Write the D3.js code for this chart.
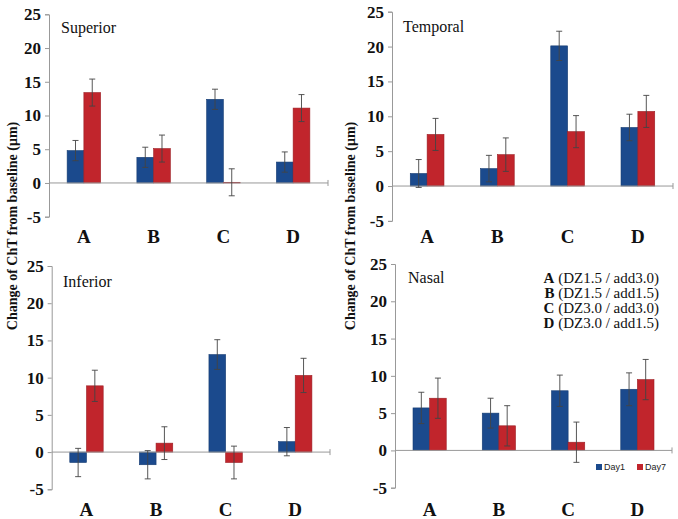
<!DOCTYPE html>
<html>
<head>
<meta charset="utf-8">
<script src="https://cdn.jsdelivr.net/npm/d3@7"></script>
<style>
  body { margin: 0; background: #fff; }
  svg { display: block; }
</style>
</head>
<body>
<script>
// categories and series
const groups = ["A", "B", "C", "D"];
const series = ["Day1", "Day7"];

// mean change (µm) per region, [Day1, Day7] for A..D
const superiorDay1 = [4.8, 3.8, 12.4, 3.1];
const superiorDay7 = [13.4, 5.1, 0.1, 11.1];
const superiorErr1 = [1.5, 1.5, 1.5, 1.5];
const superiorErr7 = [2.0, 2.0, 2.0, 2.0];

const temporalDay1 = [1.8, 2.5, 20.1, 8.4];
const temporalDay7 = [7.4, 4.5, 7.8, 10.7];
const temporalErr1 = [2.0, 1.9, 2.1, 1.9];
const temporalErr7 = [2.3, 2.4, 2.3, 2.3];

const inferiorDay1 = [-1.4, -1.7, 13.1, 1.4];
const inferiorDay7 = [8.9, 1.2, -1.4, 10.3];
const inferiorErr1 = [1.9, 1.9, 2.0, 1.9];
const inferiorErr7 = [2.1, 2.2, 2.2, 2.3];

const nasalDay1 = [5.7, 5.0, 8.0, 8.2];
const nasalDay7 = [7.0, 3.3, 1.1, 9.5];
const nasalErr1 = [2.1, 2.0, 2.1, 2.2];
const nasalErr7 = [2.7, 2.7, 2.7, 2.7];

const yTicks = [-5, 0, 5, 10, 15, 20, 25];
const keyLabels = [
  ["A", " (DZ1.5 / add3.0)"],
  ["B", " (DZ1.5 / add1.5)"],
  ["C", " (DZ3.0 / add3.0)"],
  ["D", " (DZ3.0 / add1.5)"]
];

const width = 678, height = 519;
const colors = { Day1: "#1b4a8d", Day7: "#c1252c" };
const serif = "'Liberation Serif', 'DejaVu Serif', serif";

const panels = [
  { title: "Superior", d1: superiorDay1, d7: superiorDay7, e1: superiorErr1, e7: superiorErr7,
    x0: 49, x1: 328, yTop: 14.3, yBot: 216.7, titleX: 61, titleY: 33, catY: 243 },
  { title: "Temporal", d1: temporalDay1, d7: temporalDay7, e1: temporalErr1, e7: temporalErr7,
    x0: 392, x1: 673, yTop: 11.7, yBot: 220.9, titleX: 403, titleY: 32, catY: 243 },
  { title: "Inferior", d1: inferiorDay1, d7: inferiorDay7, e1: inferiorErr1, e7: inferiorErr7,
    x0: 51.7, x1: 330, yTop: 266, yBot: 489.3, titleX: 63, titleY: 287, catY: 516 },
  { title: "Nasal", d1: nasalDay1, d7: nasalDay7, e1: nasalErr1, e7: nasalErr7,
    x0: 395, x1: 672, yTop: 264, yBot: 487.7, titleX: 408, titleY: 283, catY: 516, key: true }
];

const svg = d3.select("body").append("svg")
  .attr("width", width)
  .attr("height", height)
  .attr("viewBox", [0, 0, width, height]);

panels.forEach(p => {
  const g = svg.append("g");
  const x = d3.scaleBand().domain(groups).range([p.x0, p.x1])
    .paddingInner(0.52).paddingOuter(0.26);
  const xs = d3.scaleBand().domain(series).range([0, x.bandwidth()]);
  const y = d3.scaleLinear().domain([-5, 25]).range([p.yBot, p.yTop]);

  // y axis
  const yAxis = g.append("g")
    .attr("transform", `translate(${p.x0},0)`)
    .call(d3.axisLeft(y).tickValues(yTicks).tickFormat(d => String(d))
      .tickSize(4).tickPadding(4));
  yAxis.select(".domain").attr("stroke", "#999");
  yAxis.selectAll(".tick line").attr("stroke", "#999");
  yAxis.attr("font-family", null).attr("font-size", null);
  yAxis.selectAll("text")
    .style("font-family", serif).style("font-weight", "bold")
    .style("font-size", "17px").attr("fill", "#111");

  const rows = groups.map((c, i) => [
    { c, s: "Day1", v: p.d1[i], e: p.e1[i] },
    { c, s: "Day7", v: p.d7[i], e: p.e7[i] }
  ]).flat();

  // bars
  g.append("g").selectAll("rect").data(rows).join("rect")
    .attr("x", d => x(d.c) + xs(d.s))
    .attr("width", xs.bandwidth())
    .attr("y", d => y(Math.max(0, d.v)))
    .attr("height", d => Math.abs(y(d.v) - y(0)))
    .attr("fill", d => colors[d.s])
    .attr("stroke", d => d3.color(colors[d.s]).darker(0.6))
    .attr("stroke-width", 0.6);

  // zero line (x axis)
  g.append("line")
    .attr("x1", p.x0).attr("x2", p.x1)
    .attr("y1", y(0)).attr("y2", y(0))
    .attr("stroke", "#999");
  g.append("line")
    .attr("x1", p.x1).attr("x2", p.x1)
    .attr("y1", y(0) - 3).attr("y2", y(0) + 3)
    .attr("stroke", "#999");

  // error bars
  const eb = g.append("g").selectAll("g").data(rows).join("g")
    .attr("stroke", "#444").attr("stroke-width", 0.9);
  const cx = d => x(d.c) + xs(d.s) + xs.bandwidth() / 2;
  eb.append("line")
    .attr("x1", cx).attr("x2", cx)
    .attr("y1", d => y(d.v + d.e)).attr("y2", d => y(d.v - d.e));
  eb.append("line")
    .attr("x1", d => cx(d) - 3).attr("x2", d => cx(d) + 3)
    .attr("y1", d => y(d.v + d.e)).attr("y2", d => y(d.v + d.e));
  eb.append("line")
    .attr("x1", d => cx(d) - 3).attr("x2", d => cx(d) + 3)
    .attr("y1", d => y(d.v - d.e)).attr("y2", d => y(d.v - d.e));

  // category labels
  g.append("g").selectAll("text").data(groups).join("text")
    .attr("x", d => x(d) + x.bandwidth() / 2)
    .attr("y", p.catY)
    .attr("text-anchor", "middle")
    .attr("font-family", serif).attr("font-weight", "bold")
    .attr("font-size", 19).attr("fill", "#111")
    .text(d => d);

  // panel title
  g.append("text")
    .attr("x", p.titleX).attr("y", p.titleY)
    .attr("font-family", serif).attr("font-size", 16).attr("fill", "#111")
    .text(p.title);

  if (p.key) {
    const key = g.append("g");
    keyLabels.forEach((k, i) => {
      const t = key.append("text")
        .attr("x", 659).attr("y", 283 + i * 15)
        .attr("text-anchor", "end")
        .attr("font-family", serif).attr("font-size", 15).attr("fill", "#111");
      t.append("tspan").attr("font-weight", "bold").text(k[0]);
      t.append("tspan").text(k[1]);
    });

    // legend
    const lg = g.append("g").attr("transform", "translate(596,464)")
      .selectAll("g").data(series).join("g")
      .attr("transform", (d, i) => `translate(${i * 41},0)`);
    lg.append("rect").attr("width", 6).attr("height", 6).attr("fill", d => colors[d]);
    lg.append("text")
      .attr("x", 8).attr("y", 6)
      .attr("font-family", "'Liberation Sans', Arial, sans-serif")
      .attr("font-size", 9).attr("fill", "#222")
      .text(d => d);
  }
});

// y axis titles
[[14, 226], [352, 226]].forEach(([tx, ty]) => {
  svg.append("text")
    .attr("transform", `translate(${tx},${ty}) rotate(-90)`)
    .attr("text-anchor", "middle")
    .attr("dominant-baseline", "middle")
    .attr("font-family", serif).attr("font-weight", "bold")
    .attr("font-size", 14).attr("fill", "#111")
    .text("Change of ChT from baseline (μm)");
});
</script>
</body>
</html>
